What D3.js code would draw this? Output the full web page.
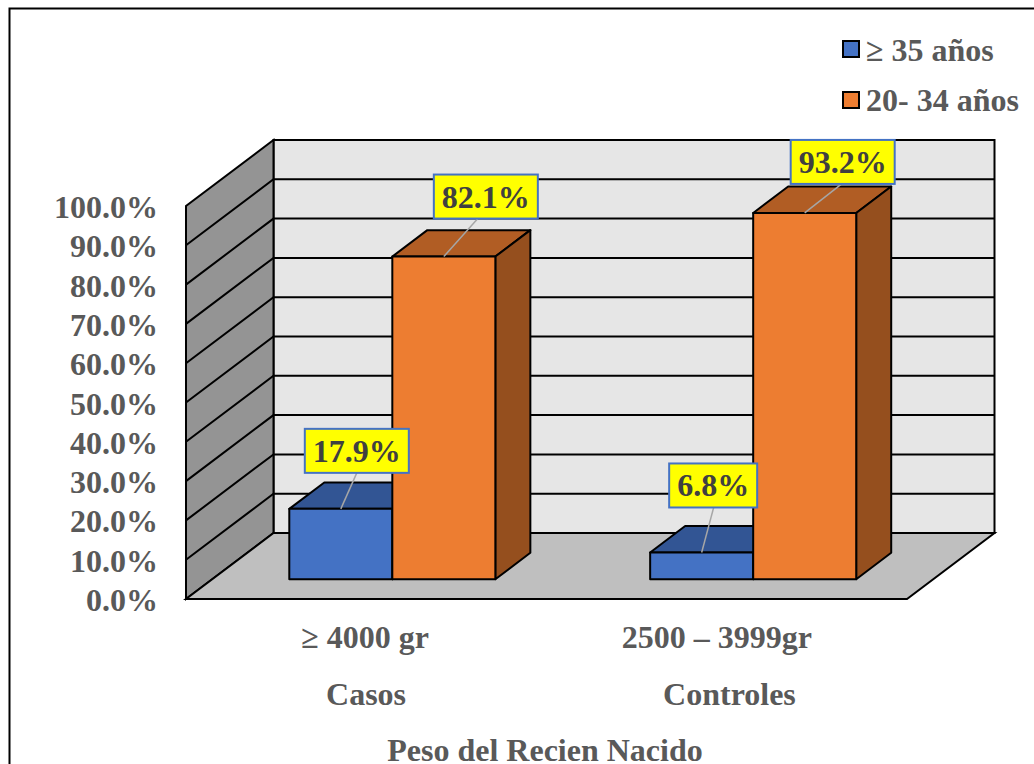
<!DOCTYPE html>
<html>
<head>
<meta charset="utf-8">
<script src="https://cdn.jsdelivr.net/npm/d3@7"></script>
<style>
  html, body { margin: 0; padding: 0; background: #fff; overflow: hidden; }
  text { font-family: "Liberation Serif", serif; font-weight: bold; }
</style>
</head>
<body>
<div id="chart"></div>
<script>
  // data
  const categories = ['≥ 4000 gr', '2500 – 3999gr'];
  const groups = ['Casos', 'Controles'];
  const seriesNames = ['≥ 35 años', '20- 34 años'];
  const older = [17.9, 6.8];
  const younger = [82.1, 93.2];
  const yTicks = [0, 10, 20, 30, 40, 50, 60, 70, 80, 90, 100];
  const axisTitle = 'Peso del Recien Nacido';

  const w = 1034;
  const h = 764;

  // front plane of the box and how far the depth pushes things back
  const plotLeft = 186, plotRight = 907, plotBottom = 599, plotTop = 206;
  const depthX = 87.5, depthY = -66;
  const barStart = 0.3, barEnd = 0.7;

  const colors = [
    {front: '#4472C4', top: '#325594', side: '#2F5597'},
    {front: '#ED7D31', top: '#B15D24', side: '#954F1E'}
  ];

  const svg = d3.select('#chart').append('svg')
    .attr('width', w)
    .attr('height', h)
    .style('display', 'block');

  const y = d3.scaleLinear().domain([0, 100]).range([plotBottom, plotTop]);
  const x0 = d3.scaleBand().domain(categories).range([plotLeft, plotRight]).paddingInner(0.429).paddingOuter(0.2135);
  const x1 = d3.scaleBand().domain(seriesNames).range([0, x0.bandwidth()]);

  const line = d3.line();

  //chart frame, only top and left show
  svg.append('path')
    .attr('d', line([[9.5, h], [9.5, 8.5], [w, 8.5]]))
    .attr('fill', 'none')
    .attr('stroke', '#000')
    .attr('stroke-width', 2);

  // walls and floor
  function poly(points, fill) {
    return svg.append('path')
      .attr('d', line(points) + 'Z')
      .attr('fill', fill)
      .attr('stroke', '#000')
      .attr('stroke-width', 2)
      .attr('stroke-linejoin', 'miter');
  }

  poly([[plotLeft + depthX, y(0) + depthY], [plotRight + depthX, y(0) + depthY], [plotRight + depthX, y(100) + depthY], [plotLeft + depthX, y(100) + depthY]], '#E6E6E6');
  poly([[plotLeft, y(0)], [plotLeft + depthX, y(0) + depthY], [plotLeft + depthX, y(100) + depthY], [plotLeft, y(100)]], '#949494');
  poly([[plotLeft, y(0)], [plotRight, y(0)], [plotRight + depthX, y(0) + depthY], [plotLeft + depthX, y(0) + depthY]], '#BFBFBF');

  // gridlines run along the left wall and then the back wall
  svg.append('g').selectAll('path')
    .data(yTicks.slice(1, -1))
    .enter()
    .append('path')
      .attr('d', d => line([[plotLeft, y(d)], [plotLeft + depthX, y(d) + depthY], [plotRight + depthX, y(d) + depthY]]))
      .attr('fill', 'none')
      .attr('stroke', '#000')
      .attr('stroke-width', 2);

  // y axis labels
  const yAxis = svg.append('g')
    .attr('transform', `translate(${plotLeft},0)`)
    .call(d3.axisLeft(y).tickValues(yTicks).tickSize(0).tickPadding(28).tickFormat(d => d.toFixed(1) + '%'));
  yAxis.select('.domain').remove();
  yAxis.selectAll('text')
    .attr('dy', 11.5)
    .attr('fill', '#595959')
    .style('font-family', '"Liberation Serif", serif')
    .style('font-size', '32px');

  // 3d bars, blue first so the orange one sits over it
  const x3d = barStart * depthX, y3d = barStart * depthY;
  const bx = (barEnd - barStart) * depthX, by = (barEnd - barStart) * depthY;

  function drawBar(category, name, value, color) {
    const x = x0(category) + x1(name) + x3d;
    const bw = x1.bandwidth();
    const yTop = y(value) + y3d;
    const yBase = y(0) + y3d;
    const g = svg.append('g')
      .attr('stroke', '#000')
      .attr('stroke-width', 2)
      .attr('stroke-linejoin', 'round');
    g.append('path')
      .attr('d', line([[x, yTop], [x + bw, yTop], [x + bw + bx, yTop + by], [x + bx, yTop + by]]) + 'Z')
      .attr('fill', color.top);
    g.append('path')
      .attr('d', line([[x + bw, yTop], [x + bw + bx, yTop + by], [x + bw + bx, yBase + by], [x + bw, yBase]]) + 'Z')
      .attr('fill', color.side);
    g.append('rect')
      .attr('x', x)
      .attr('y', yTop)
      .attr('width', bw)
      .attr('height', yBase - yTop)
      .attr('fill', color.front);
  }

  categories.forEach((c, i) => {
    drawBar(c, seriesNames[0], older[i], colors[0]);
    drawBar(c, seriesNames[1], younger[i], colors[1]);
  });

  // data labels: yellow box with a grey leader back to the bar top
  function drawLabel(category, name, value, shiftX, gapY, leaderX) {
    const x = x0(category) + x1(name) + x3d + x1.bandwidth() / 2;
    const yTop = y(value) + y3d;
    const txt = value.toFixed(1) + '%';
    const boxW = txt.length === 5 ? 104 : 88;
    const boxH = 44;
    const g = svg.append('g');
    g.append('path')
      .attr('d', line([[x, yTop], [x + leaderX, yTop - gapY]]))
      .attr('stroke', '#A6A6A6')
      .attr('stroke-width', 1.5);
    g.append('rect')
      .attr('x', x + shiftX - boxW / 2)
      .attr('y', yTop - gapY - boxH)
      .attr('width', boxW)
      .attr('height', boxH)
      .attr('fill', '#FFFF00')
      .attr('stroke', '#4472C4')
      .attr('stroke-width', 2);
    g.append('text')
      .attr('x', x + shiftX)
      .attr('y', yTop - gapY - 11)
      .attr('text-anchor', 'middle')
      .attr('fill', '#404040')
      .style('font-size', '32px')
      .text(txt);
  }

  drawLabel(categories[0], seriesNames[0], older[0], 16, 36, 16);
  drawLabel(categories[0], seriesNames[1], younger[0], 42, 38, 34);
  drawLabel(categories[1], seriesNames[0], older[1], 11.5, 45, 12);
  drawLabel(categories[1], seriesNames[1], younger[1], 38, 29, 37);

  // category labels under the floor
  const labelShift = [-1, -10];
  const groupShift = [0, 2.5];
  function axisText(str, xPos, yPos, size) {
    svg.append('text')
      .attr('x', xPos)
      .attr('y', yPos)
      .attr('text-anchor', 'middle')
      .attr('fill', '#595959')
      .style('font-size', size + 'px')
      .text(str);
  }

  categories.forEach((c, i) => {
    const cx = x0(c) + x0.bandwidth() / 2;
    axisText(c, cx + labelShift[i], 648, 32);
    axisText(groups[i], cx + groupShift[i], 705, 32);
  });
  axisText(axisTitle, (plotLeft + plotRight) / 2 - 1.5, 761, 32);

  // legend
  const legend = svg.append('g').selectAll('g')
    .data(seriesNames)
    .enter()
    .append('g')
      .attr('transform', (d, i) => `translate(843,${41 + i * 51})`);

  legend.append('rect')
    .attr('width', 16)
    .attr('height', 16)
    .attr('fill', (d, i) => colors[i].front)
    .attr('stroke', '#000')
    .attr('stroke-width', 2);

  legend.append('text')
    .attr('x', 23)
    .attr('y', (d, i) => 20 - i)
    .attr('fill', '#595959')
    .style('font-size', '32px')
    .text(d => d);
</script>
</body>
</html>
